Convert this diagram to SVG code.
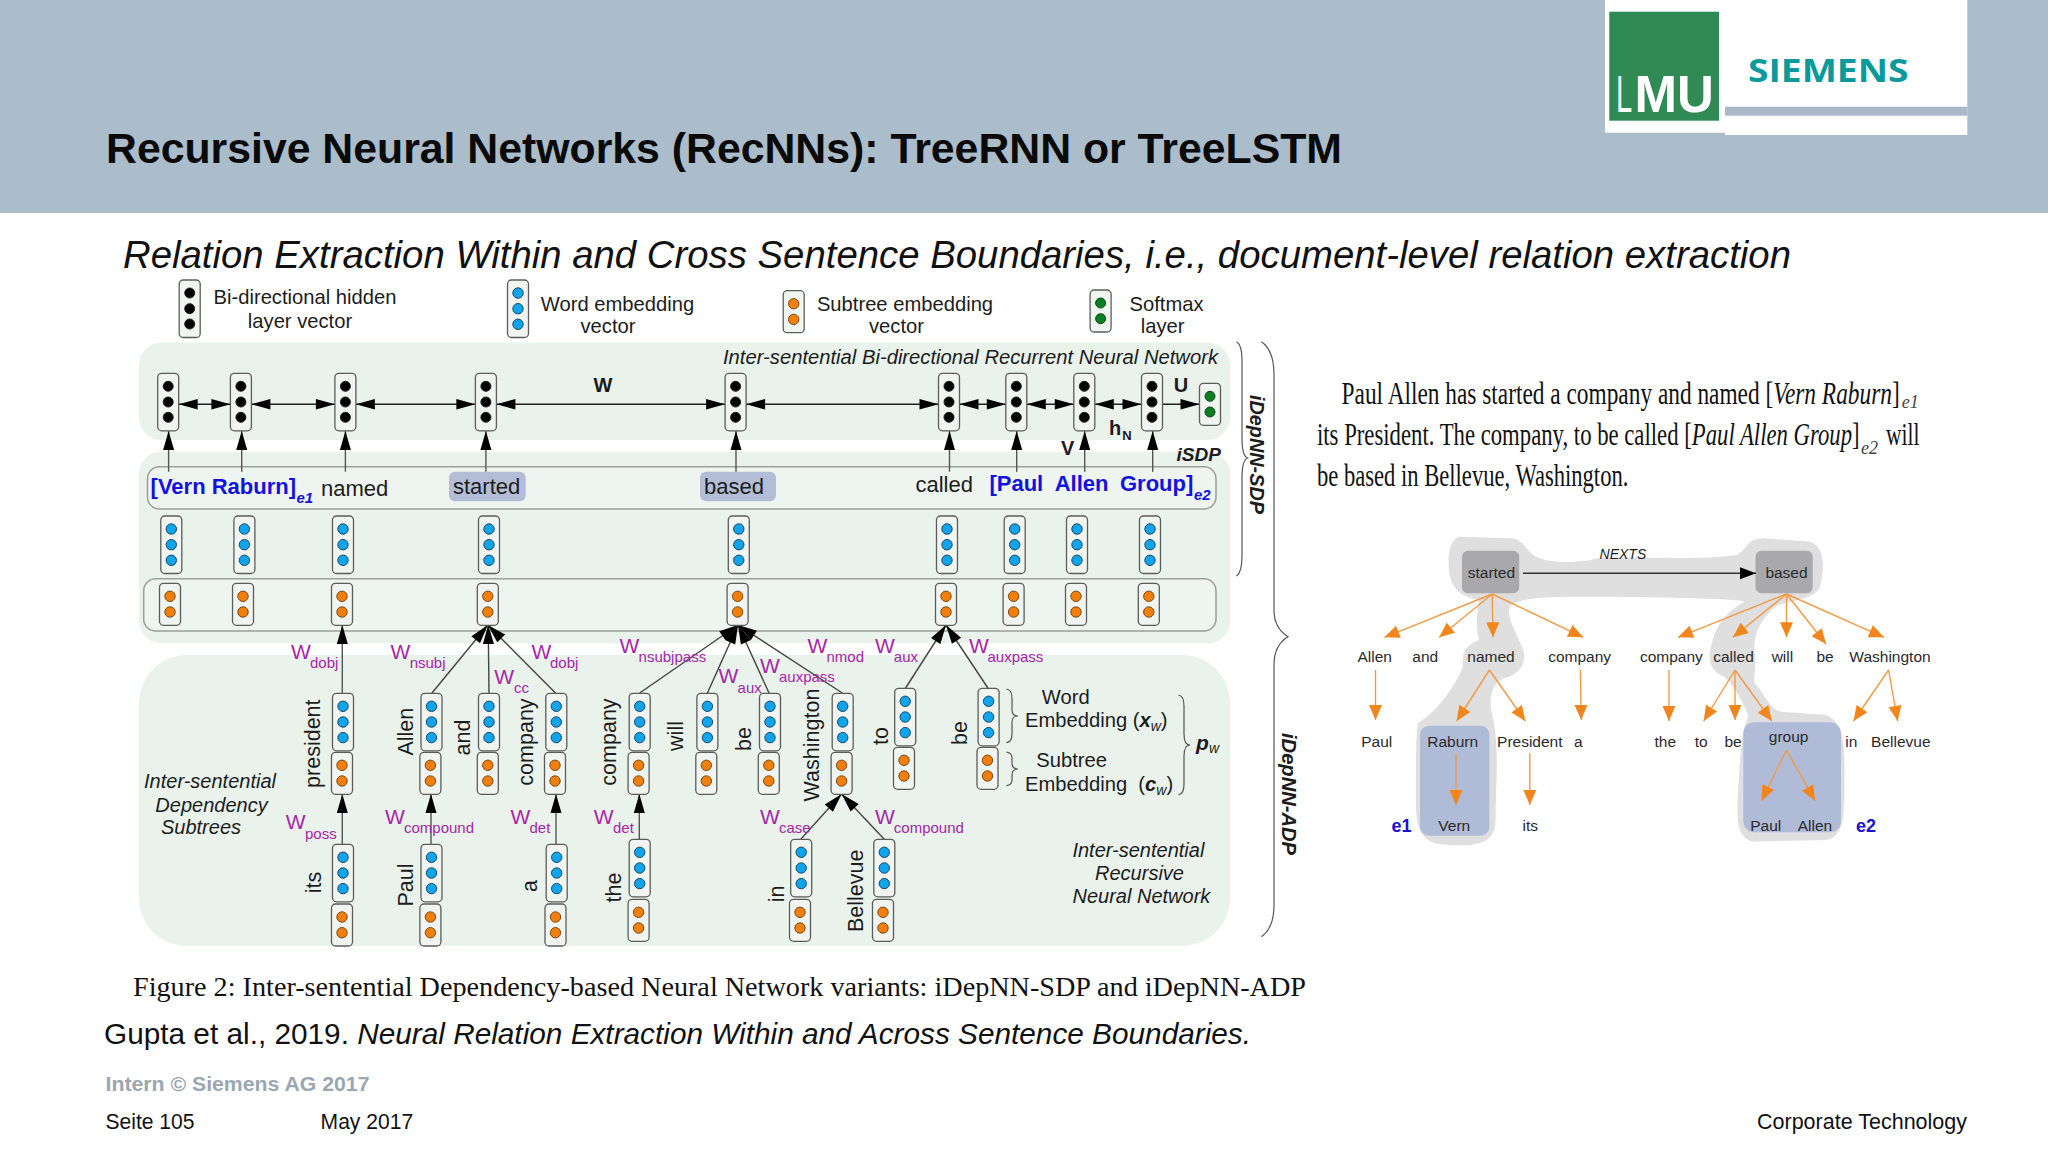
<svg xmlns="http://www.w3.org/2000/svg" xmlns:xlink="http://www.w3.org/1999/xlink" width="2048" height="1151" viewBox="0 0 2048 1151">
<style>
text{font-family:"Liberation Sans",Arial,sans-serif;fill:#1c1c1c}
.lg{font-size:20.2px;text-anchor:middle}
.wd{font-size:22px}
.bl{font-size:22px;font-weight:bold;fill:#1212e0}
.bs{font-size:15px;font-weight:bold;font-style:italic;fill:#1212e0}
.rt{font-size:21.5px;text-anchor:middle}
.it{font-size:20px;font-style:italic;text-anchor:middle}
.W{font-size:21px;fill:#a726a7}
.S{font-size:15px;fill:#a726a7}
.sym{font-size:20px;font-weight:bold}
.tr{font-size:15.5px;text-anchor:middle;fill:#2a2a2a}
.ser{font-family:"Liberation Serif","Times New Roman",serif;font-size:32px;fill:#111}
.sb{font-family:"Liberation Serif","Times New Roman",serif;font-size:18px;font-style:italic;fill:#444}
.pn{fill:#e9f2eb}
.row{fill:#eef5f0;stroke:#9c9f9c;stroke-width:1.5}
.hl{fill:#b3bdd6}
.br{fill:none;stroke:#555;stroke-width:1.2}
.c{fill:none;stroke:#555;stroke-width:1.4}
.a{marker-end:url(#ah)}
.fat{stroke:#444;marker-end:url(#af)}
.h{fill:none;stroke:#222;stroke-width:1.4;marker-start:url(#hh);marker-end:url(#hh)}
.o{stroke:#f29a44;stroke-width:1.4;marker-end:url(#oh)}
.vb{fill:#f0f5f1;stroke:#5c5c5c;stroke-width:1.3}
.cb{fill:#000;stroke:#222}
.cu{fill:#10a4ec;stroke:#1a4a66}
.co{fill:#f27f0c;stroke:#7a4a18}
.cg{fill:#0b7d22;stroke:#0a4a16}
</style>
<defs>
<marker id="ah" markerUnits="userSpaceOnUse" markerWidth="12" markerHeight="19" refX="6" refY="0" orient="0" overflow="visible"><path d="M6,0L11.5,19H0.5Z" fill="#000"/></marker>
<marker id="af" markerUnits="userSpaceOnUse" markerWidth="19" markerHeight="11" refX="19" refY="5.5" orient="auto" overflow="visible"><path d="M19,5.5L0,0V11Z" fill="#000"/></marker>
<marker id="hh" markerUnits="userSpaceOnUse" markerWidth="19" markerHeight="11" refX="19" refY="5.5" orient="auto-start-reverse" overflow="visible"><path d="M19,5.5L0,0.2V10.8Z" fill="#000"/></marker>
<marker id="oh" markerUnits="userSpaceOnUse" markerWidth="15" markerHeight="14" refX="15" refY="6.5" orient="auto" overflow="visible"><path d="M15,6.5L0,0V13Z" fill="#f2861c"/></marker>
<marker id="kh" markerUnits="userSpaceOnUse" markerWidth="16" markerHeight="12" refX="16" refY="6" orient="auto" overflow="visible"><path d="M16,6L0,0V12Z" fill="#000"/></marker>
<g id="vk"><rect class="vb" x="-10.5" width="21" height="57.5" rx="4"/><circle class="cb" cy="13" r="5"/><circle class="cb" cy="28.7" r="5"/><circle class="cb" cy="44" r="5"/></g>
<g id="vu"><rect class="vb" x="-10.5" width="21" height="57.5" rx="4"/><circle class="cu" cy="13" r="5.2"/><circle class="cu" cy="28.7" r="5.2"/><circle class="cu" cy="44.3" r="5.2"/></g>
<g id="vo"><rect class="vb" x="-10.5" width="21" height="42" rx="4"/><circle class="co" cy="13" r="5.2"/><circle class="co" cy="28.7" r="5.2"/></g>
<g id="vg"><rect class="vb" x="-10.5" width="21" height="42" rx="4"/><circle class="cg" cy="13" r="5"/><circle class="cg" cy="28.7" r="5"/></g>
</defs>

<rect width="2048" height="1151" fill="#fff"/>
<g id="header">
<rect width="2048" height="213" fill="#abbcca"/>
<text x="106" y="163" font-size="43" font-weight="bold" textLength="1236" lengthAdjust="spacingAndGlyphs" style="fill:#0a0a0a">Recursive Neural Networks (RecNNs): TreeRNN or TreeLSTM</text>
</g>
<g id="logos">
<rect x="1605" y="0" width="120" height="132.7" fill="#fff"/>
<rect x="1725" y="0" width="242.3" height="135" fill="#fff"/>
<rect x="1725" y="106.7" width="242.3" height="9" fill="#abb8c9"/>
<rect x="1609.3" y="11.7" width="109.7" height="109" fill="#2f8a54"/>
<text transform="translate(1616 112.3) scale(.57 1)" font-size="51" style="fill:#fff">L</text>
<text x="1634.5" y="112.3" font-size="51" font-weight="bold" style="fill:#fff">MU</text>
<text x="1748" y="81.7" font-size="32" font-weight="bold" textLength="160.5" lengthAdjust="spacingAndGlyphs" style="font-family:'Open Sans',sans-serif;fill:#0b9a9c">SIEMENS</text>
</g>
<text id="subtitle" x="123" y="268" font-size="39" font-style="italic" textLength="1668" lengthAdjust="spacingAndGlyphs" style="fill:#111">Relation Extraction Within and Cross Sentence Boundaries, i.e., document-level relation extraction</text>

<g id="legend">
<g id="leg-hidden"><use href="#vk" x="189.7" y="280"/><text class="lg" x="305" y="304.3">Bi-directional hidden</text><text class="lg" x="300" y="328.3">layer vector</text></g>
<g id="leg-word"><use href="#vu" x="518" y="280"/><text class="lg" x="617.5" y="310.7">Word embedding</text><text class="lg" x="608" y="332.7">vector</text></g>
<g id="leg-subtree"><use href="#vo" x="793.7" y="290.7"/><text class="lg" x="905" y="310.7">Subtree embedding</text><text class="lg" x="896.5" y="332.7">vector</text></g>
<g id="leg-softmax"><use href="#vg" x="1100.6" y="290"/><text class="lg" x="1166.6" y="310.7">Softmax</text><text class="lg" x="1162.6" y="332.7">layer</text></g>
</g>

<g id="panels">
<rect class="pn" x="139" y="342.7" width="1091" height="97.3" rx="22"/>
<rect class="pn" x="139" y="451.7" width="1091" height="191.6" rx="22"/>
<rect class="pn" x="139" y="655" width="1091" height="291" rx="48"/>
<rect class="row" x="147.5" y="466.7" width="1068.5" height="42.3" rx="12"/>
<rect class="row" x="143.7" y="578.7" width="1072.3" height="52.3" rx="12"/>
<rect class="hl" x="449" y="471.7" width="76.7" height="29.5" rx="6"/>
<rect class="hl" x="700" y="471.7" width="76" height="29.5" rx="6"/>
</g>

<g id="connectors">
<line class="h" x1="178.7" y1="404.3" x2="230.4" y2="404.3"/>
<line class="h" x1="251.4" y1="404.3" x2="334.9" y2="404.3"/>
<line class="h" x1="355.9" y1="404.3" x2="475.4" y2="404.3"/>
<line class="h" x1="496.4" y1="404.3" x2="725.1" y2="404.3"/>
<line class="h" x1="746.1" y1="404.3" x2="938.5" y2="404.3"/>
<line class="h" x1="959.5" y1="404.3" x2="1005.8" y2="404.3"/>
<line class="h" x1="1026.8" y1="404.3" x2="1073.8" y2="404.3"/>
<line class="h" x1="1094.8" y1="404.3" x2="1141.5" y2="404.3"/>
<line x1="1162.5" y1="404.3" x2="1199.5" y2="404.3" stroke="#222" stroke-width="1.4" marker-end="url(#hh)"/>
<line class="c a" x1="168.6" y1="471.7" x2="168.6" y2="431"/>
<line class="c a" x1="241.7" y1="471.7" x2="241.7" y2="431"/>
<line class="c a" x1="345.4" y1="471.7" x2="345.4" y2="431"/>
<line class="c a" x1="485.9" y1="471.7" x2="485.9" y2="431"/>
<line class="c a" x1="736" y1="471.7" x2="736" y2="431"/>
<line class="c a" x1="949.5" y1="471.7" x2="949.5" y2="431"/>
<line class="c a" x1="1016.7" y1="471.7" x2="1016.7" y2="431"/>
<line class="c a" x1="1084.7" y1="471.7" x2="1084.7" y2="431"/>
<line class="c a" x1="1152.7" y1="471.7" x2="1152.7" y2="431"/>
<line class="c a" x1="342.3" y1="693" x2="342.3" y2="625"/>
<line class="c a" x1="342.3" y1="844" x2="342.3" y2="794"/>
<line class="c a" x1="431" y1="844" x2="431" y2="794"/>
<line class="c a" x1="556" y1="844" x2="556" y2="794"/>
<line class="c a" x1="639.3" y1="839" x2="639.3" y2="794"/>
<line class="c fat" x1="432" y1="693" x2="487.8" y2="625"/>
<line class="c fat" x1="489" y1="693" x2="488.2" y2="625"/>
<line class="c fat" x1="555.5" y1="693" x2="487.8" y2="625"/>
<line class="c fat" x1="639.7" y1="693" x2="738" y2="625"/>
<line class="c fat" x1="707.4" y1="693" x2="738" y2="625"/>
<line class="c fat" x1="769" y1="693" x2="738" y2="625"/>
<line class="c fat" x1="842.3" y1="693" x2="738" y2="625"/>
<line class="c fat" x1="905.6" y1="688" x2="946" y2="625"/>
<line class="c fat" x1="987.9" y1="688" x2="946" y2="625"/>
<line class="c fat" x1="800.8" y1="839.3" x2="841.6" y2="794"/>
<line class="c fat" x1="884.3" y1="839.3" x2="841.6" y2="794"/>
</g>

<g id="top-row">
<g id="h1"><use href="#vk" x="168.2" y="373.3"/></g>
<g id="h2"><use href="#vk" x="240.9" y="373.3"/></g>
<g id="h3"><use href="#vk" x="345.4" y="373.3"/></g>
<g id="h4"><use href="#vk" x="485.9" y="373.3"/></g>
<g id="h5"><use href="#vk" x="735.6" y="373.3"/></g>
<g id="h6"><use href="#vk" x="949" y="373.3"/></g>
<g id="h7"><use href="#vk" x="1016.3" y="373.3"/></g>
<g id="h8"><use href="#vk" x="1084.3" y="373.3"/></g>
<g id="h9"><use href="#vk" x="1152" y="373.3"/></g>
<g id="softmax"><use href="#vg" x="1210" y="383.3"/></g>
</g>
<g id="sdp-vectors">
<g id="s1"><use href="#vu" x="171.3" y="516"/><use href="#vo" x="170" y="583.3"/></g>
<g id="s2"><use href="#vu" x="244.4" y="516"/><use href="#vo" x="243" y="583.3"/></g>
<g id="s3"><use href="#vu" x="343" y="516"/><use href="#vo" x="342" y="583.3"/></g>
<g id="s4"><use href="#vu" x="489" y="516"/><use href="#vo" x="487.8" y="583.3"/></g>
<g id="s5"><use href="#vu" x="738.8" y="516"/><use href="#vo" x="737.6" y="583.3"/></g>
<g id="s6"><use href="#vu" x="947" y="516"/><use href="#vo" x="946" y="583.3"/></g>
<g id="s7"><use href="#vu" x="1014.7" y="516"/><use href="#vo" x="1013.6" y="583.3"/></g>
<g id="s8"><use href="#vu" x="1077" y="516"/><use href="#vo" x="1076" y="583.3"/></g>
<g id="s9"><use href="#vu" x="1150" y="516"/><use href="#vo" x="1148.8" y="583.3"/></g>
</g>
<g id="subtree-vectors">
<g id="t-president"><use href="#vu" x="343" y="693.3"/><use href="#vo" x="342" y="752.3"/><text class="rt" transform="translate(319.8 743.7) rotate(-90)">president</text></g>
<g id="t-allen"><use href="#vu" x="431.5" y="693.3"/><use href="#vo" x="430.4" y="752.3"/><text class="rt" transform="translate(412.8 731.7) rotate(-90)">Allen</text></g>
<g id="t-and"><use href="#vu" x="489" y="693.3"/><use href="#vo" x="487.8" y="752.3"/><text class="rt" transform="translate(470 737.5) rotate(-90)">and</text></g>
<g id="t-company"><use href="#vu" x="556.3" y="693.3"/><use href="#vo" x="555" y="752.3"/><text class="rt" transform="translate(532.5 742) rotate(-90)">company</text></g>
<g id="t-company2"><use href="#vu" x="639.7" y="693.3"/><use href="#vo" x="638.6" y="752.3"/><text class="rt" transform="translate(616 742) rotate(-90)">company</text></g>
<g id="t-will"><use href="#vu" x="707.4" y="693.3"/><use href="#vo" x="706.3" y="752.3"/><text class="rt" transform="translate(683.3 736) rotate(-90)">will</text></g>
<g id="t-be"><use href="#vu" x="770" y="693.3"/><use href="#vo" x="768.8" y="752.3"/><text class="rt" transform="translate(751.4 739) rotate(-90)">be</text></g>
<g id="t-washington"><use href="#vu" x="842.7" y="693.3"/><use href="#vo" x="841.6" y="752.3"/><text class="rt" transform="translate(818.6 745) rotate(-90)">Washington</text></g>
<g id="t-to"><use href="#vu" x="905.2" y="688.3"/><use href="#vo" x="904" y="747.3"/><text class="rt" transform="translate(887.8 736) rotate(-90)">to</text></g>
<g id="t-be2"><use href="#vu" x="988.6" y="688.3"/><use href="#vo" x="987.5" y="747.3"/><text class="rt" transform="translate(967 733) rotate(-90)">be</text></g>
<g id="t-its"><use href="#vu" x="343" y="844.3"/><use href="#vo" x="342" y="904"/><text class="rt" transform="translate(321 882.5) rotate(-90)">its</text></g>
<g id="t-paul"><use href="#vu" x="431.5" y="844.3"/><use href="#vo" x="430.4" y="904"/><text class="rt" transform="translate(412.8 885) rotate(-90)">Paul</text></g>
<g id="t-a"><use href="#vu" x="556.7" y="844.3"/><use href="#vo" x="555.5" y="904"/><text class="rt" transform="translate(537 886) rotate(-90)">a</text></g>
<g id="t-the"><use href="#vu" x="639.7" y="839.3"/><use href="#vo" x="638.6" y="899.3"/><text class="rt" transform="translate(621.3 887.5) rotate(-90)">the</text></g>
<g id="t-in"><use href="#vu" x="801.2" y="839.3"/><use href="#vo" x="800" y="899.3"/><text class="rt" transform="translate(783.8 894) rotate(-90)">in</text></g>
<g id="t-bellevue"><use href="#vu" x="884.3" y="839.3"/><use href="#vo" x="883" y="899.3"/><text class="rt" transform="translate(863 890.8) rotate(-90)">Bellevue</text></g>
</g>

<g id="sdp-words">
<text class="bl" x="150.6" y="494" textLength="145.4" lengthAdjust="spacingAndGlyphs">[Vern Raburn]</text>
<text class="bs" x="296.5" y="503.3">e1</text>
<text class="wd" x="321" y="495.7">named</text>
<text class="wd" x="453" y="494">started</text>
<text class="wd" x="704" y="494">based</text>
<text class="wd" x="915.5" y="492.3">called</text>
<text class="bl" x="989.4" y="491">[Paul</text>
<text class="bl" x="1054.7" y="491">Allen</text>
<text class="bl" x="1120" y="491">Group]</text>
<text class="bs" x="1194" y="500">e2</text>
<text class="it" x="970.5" y="364.3" textLength="495" lengthAdjust="spacingAndGlyphs">Inter-sentential Bi-directional Recurrent Neural Network</text>
<text class="sym" x="603" y="392.3" text-anchor="middle">W</text>
<text class="sym" x="1181" y="392.3" text-anchor="middle">U</text>
<text class="sym" x="1067.7" y="455" text-anchor="middle">V</text>
<text x="1115" y="435" font-size="20" font-weight="bold" text-anchor="middle">h</text><text x="1127" y="440" font-size="13" font-weight="bold" text-anchor="middle">N</text>
<text x="1176.5" y="460.7" font-size="19" font-weight="bold" font-style="italic">iSDP</text>
</g>

<g id="relation-labels">
<text class="W" x="291" y="659">W</text><text class="S" x="310" y="668">dobj</text>
<text class="W" x="390.6" y="659">W</text><text class="S" x="409.7" y="668">nsubj</text>
<text class="W" x="531.4" y="659">W</text><text class="S" x="550" y="668">dobj</text>
<text class="W" x="494.3" y="684">W</text><text class="S" x="514" y="692.7">cc</text>
<text class="W" x="619.4" y="653.3">W</text><text class="S" x="638.6" y="662.3">nsubjpass</text>
<text class="W" x="285.7" y="829.3">W</text><text class="S" x="305" y="838.7">poss</text>
<text class="W" x="385" y="824.3">W</text><text class="S" x="404" y="833.3">compound</text>
<text class="W" x="510.4" y="824">W</text><text class="S" x="529.5" y="833.3">det</text>
<text class="W" x="593.8" y="824">W</text><text class="S" x="613" y="833.3">det</text>
<text class="W" x="718.6" y="683.3">W</text><text class="S" x="737.6" y="693.3">aux</text>
<text class="W" x="760" y="673.3">W</text><text class="S" x="779" y="682.3">auxpass</text>
<text class="W" x="807.5" y="653.3">W</text><text class="S" x="826.5" y="661.7">nmod</text>
<text class="W" x="875" y="653.3">W</text><text class="S" x="893.8" y="661.7">aux</text>
<text class="W" x="969" y="653.3">W</text><text class="S" x="987.5" y="661.7">auxpass</text>
<text class="W" x="760" y="824">W</text><text class="S" x="779" y="833">case</text>
<text class="W" x="875" y="824">W</text><text class="S" x="893.8" y="833">compound</text>
</g>

<g id="notes">
<text class="it" x="210" y="788.3">Inter-sentential</text>
<text class="it" x="211.5" y="811.7">Dependency</text>
<text class="it" x="201" y="834">Subtrees</text>
<text class="it" x="1138.4" y="856.7">Inter-sentential</text>
<text class="it" x="1139.5" y="880">Recursive</text>
<text class="it" x="1141.4" y="902.7">Neural Network</text>
<text class="lg" x="1065.7" y="704.3">Word</text>
<text x="1025" y="727.3" font-size="20.2">Embedding (<tspan font-weight="bold" font-style="italic">x</tspan><tspan font-size="14" font-style="italic" dy="4">w</tspan><tspan dy="-4">)</tspan></text>
<text class="lg" x="1071.7" y="767.3">Subtree</text>
<text x="1025" y="790.7" font-size="20.2" xml:space="preserve">Embedding  (<tspan font-weight="bold" font-style="italic">c</tspan><tspan font-size="14" font-style="italic" dy="4">w</tspan><tspan dy="-4">)</tspan></text>
<text x="1196" y="750" font-size="21" font-weight="bold" font-style="italic">p</text><text x="1209" y="753" font-size="14" font-style="italic">w</text>
<path class="br" d="M1006.4,689Q1012,690 1012,698V710Q1012,716 1018,716Q1012,716 1012,722V734Q1012,742 1006.4,742.7"/>
<path class="br" d="M1006.4,752Q1012,753 1012,758V763Q1012,769 1018,769Q1012,769 1012,775V780Q1012,785 1006.4,785.7"/>
<path class="br" d="M1178.5,695Q1184,696 1184,706V734Q1184,745 1190,745Q1184,745 1184,756V784Q1184,794 1178.5,795"/>
<path class="br" d="M1236.6,341.7Q1242,345 1242,360V438Q1242,456 1247.6,458Q1242,460 1242,478V556Q1242,572 1236.6,576"/>
<path class="br" d="M1261.5,341.7Q1274,350 1274,375V610Q1274,628 1288,636.7Q1274,645 1274,665V905Q1274,928 1261.5,936.7"/>
<text transform="translate(1250 454.5) rotate(90)" font-size="20" font-weight="bold" font-style="italic" text-anchor="middle" textLength="119" lengthAdjust="spacingAndGlyphs">iDepNN-SDP</text>
<text transform="translate(1282 794) rotate(90)" font-size="20" font-weight="bold" font-style="italic" text-anchor="middle" textLength="122" lengthAdjust="spacingAndGlyphs">iDepNN-ADP</text>
</g>

<g id="paragraph">
<text class="ser" transform="translate(1341.6 404.3) scale(.7296 1)">Paul Allen has started a company and named [<tspan font-style="italic">Vern Raburn</tspan>]</text>
<text class="sb" x="1901.7" y="407.7">e1</text>
<text class="ser" transform="translate(1317 444.6) scale(.71 1)">its President. The company, to be called [<tspan font-style="italic">Paul Allen Group</tspan>]</text>
<text class="sb" x="1861" y="454">e2</text>
<text class="ser" x="1886" y="444.6" textLength="33.5" lengthAdjust="spacingAndGlyphs">will</text>
<text class="ser" transform="translate(1317 485.7) scale(.706 1)">be based in Bellevue, Washington.</text>
</g>

<g id="tree">
<path transform="translate(1320 520) scale(.40816 .33333)" fill="#dfdfe0" d="M340,50L470,55C500,60 510,100 530,110C560,130 640,130 680,115C800,110 950,120 1020,105C1050,90 1040,55 1090,55L1200,65C1240,80 1235,150 1225,200C1215,240 1130,245 1115,260C1080,300 1060,340 1065,400C1070,450 1060,480 1065,490C1090,520 1100,570 1130,575L1240,585C1290,610 1285,700 1285,800C1285,900 1280,950 1240,960L1060,965C1020,950 1020,900 1025,800C1030,690 1035,620 1050,590C1040,550 1010,490 990,470C950,450 950,410 960,370C970,320 990,280 1040,245C1030,235 760,230 620,230C550,230 480,235 465,260C455,300 490,350 500,400C505,450 470,470 450,475C420,490 410,540 425,600C440,700 430,800 430,900C430,960 400,980 320,975C260,975 235,950 235,850C235,720 235,640 240,610C290,570 330,500 350,440C350,400 350,380 390,360C380,320 385,270 390,240C340,230 315,200 315,130C315,90 320,60 340,50Z"/>
<rect x="1420" y="725.7" width="69.4" height="110" rx="9" fill="#b0bbd8"/>
<rect x="1743.3" y="722.3" width="97.7" height="110" rx="11" fill="#b0bbd8"/>
<g id="n-started"><rect x="1462" y="550.7" width="57.2" height="42.6" rx="6" fill="#a9a9ab"/><text class="tr" x="1491.4" y="578.3">started</text></g>
<g id="n-based"><rect x="1755.5" y="550.7" width="57.2" height="42.6" rx="6" fill="#a9a9ab"/><text class="tr" x="1786.5" y="578.3">based</text></g>
<text x="1622.9" y="559.3" font-size="14" font-style="italic" text-anchor="middle">NEXTS</text>
<g id="tree-connectors">
<line x1="1522.9" y1="573.3" x2="1756" y2="573.3" stroke="#333" stroke-width="1.4" marker-end="url(#kh)"/>
<line class="o" x1="1492.2" y1="594" x2="1384.5" y2="637.3"/>
<line class="o" x1="1492.2" y1="594" x2="1439.2" y2="637.3"/>
<line class="o" x1="1492.2" y1="594" x2="1493" y2="637.3"/>
<line class="o" x1="1492.2" y1="594" x2="1583.3" y2="637.3"/>
<line class="o" x1="1786.5" y1="594" x2="1678" y2="637.3"/>
<line class="o" x1="1786.5" y1="594" x2="1733" y2="637.3"/>
<line class="o" x1="1786.5" y1="594" x2="1786.5" y2="637.3"/>
<line class="o" x1="1786.5" y1="594" x2="1826" y2="644"/>
<line class="o" x1="1786.5" y1="594" x2="1884" y2="637.3"/>
<line class="o" x1="1375.5" y1="670" x2="1375.5" y2="720"/>
<line class="o" x1="1580.4" y1="670" x2="1581.2" y2="720"/>
<line class="o" x1="1489.4" y1="670" x2="1456.7" y2="721"/>
<line class="o" x1="1489.4" y1="670" x2="1525.3" y2="721"/>
<line class="o" x1="1669" y1="670" x2="1669" y2="721"/>
<line class="o" x1="1735" y1="670" x2="1703.7" y2="721"/>
<line class="o" x1="1735" y1="670" x2="1735" y2="720"/>
<line class="o" x1="1735" y1="670" x2="1771.8" y2="721"/>
<line class="o" x1="1888.6" y1="670" x2="1853.5" y2="721"/>
<line class="o" x1="1888.6" y1="670" x2="1897.6" y2="721"/>
<line class="o" x1="1456" y1="753.3" x2="1456" y2="805"/>
<line class="o" x1="1529.8" y1="753.3" x2="1529.8" y2="805"/>
<line class="o" x1="1786.5" y1="750" x2="1761.6" y2="800.7"/>
<line class="o" x1="1786.5" y1="750" x2="1815" y2="800.7"/>
</g>
<g id="tree-words">
<text class="tr" x="1374.7" y="662.3">Allen</text><text class="tr" x="1425.3" y="662.3">and</text><text class="tr" x="1491" y="662.3">named</text><text class="tr" x="1579.6" y="662.3">company</text><text class="tr" x="1671.4" y="662.3">company</text><text class="tr" x="1733.5" y="662.3">called</text><text class="tr" x="1782.4" y="662.3">will</text><text class="tr" x="1825" y="662.3">be</text><text class="tr" x="1890" y="662.3">Washington</text>
<text class="tr" x="1376.7" y="746.7">Paul</text><text class="tr" x="1452.7" y="746.7">Raburn</text><text class="tr" x="1529.8" y="746.7">President</text><text class="tr" x="1578.4" y="746.7">a</text><text class="tr" x="1665.3" y="746.7">the</text><text class="tr" x="1701.2" y="746.7">to</text><text class="tr" x="1733" y="746.7">be</text><text class="tr" x="1788.6" y="741.7">group</text><text class="tr" x="1851.4" y="746.7">in</text><text class="tr" x="1900.8" y="746.7">Bellevue</text>
<text class="tr" x="1454.3" y="830.7">Vern</text><text class="tr" x="1530.2" y="830.7">its</text><text class="tr" x="1765.7" y="830.7">Paul</text><text class="tr" x="1815" y="830.7">Allen</text>
<text x="1401.6" y="832.3" font-size="18" font-weight="bold" text-anchor="middle" style="fill:#1414d0">e1</text>
<text x="1866" y="832.3" font-size="18" font-weight="bold" text-anchor="middle" style="fill:#1414d0">e2</text>
</g>
</g>

<g id="footer">
<text x="133" y="996" font-size="27" textLength="1173" lengthAdjust="spacingAndGlyphs" style="font-family:'Liberation Serif',serif;fill:#111">Figure 2: Inter-sentential Dependency-based Neural Network variants: iDepNN-SDP and iDepNN-ADP</text>
<text x="104" y="1044" font-size="29" textLength="1147" lengthAdjust="spacingAndGlyphs" style="fill:#111">Gupta et al., 2019. <tspan font-style="italic">Neural Relation Extraction Within and Across Sentence Boundaries.</tspan></text>
<text x="105.5" y="1091" font-size="21" font-weight="bold" textLength="264" lengthAdjust="spacingAndGlyphs" style="fill:#9aa7b2">Intern © Siemens AG 2017</text>
<text x="105.5" y="1128.5" font-size="21.5" textLength="89" lengthAdjust="spacingAndGlyphs" style="fill:#111">Seite 105</text>
<text x="320.6" y="1128.5" font-size="21.5" textLength="92.5" lengthAdjust="spacingAndGlyphs" style="fill:#111">May 2017</text>
<text x="1757" y="1128.5" font-size="21.5" textLength="210" lengthAdjust="spacingAndGlyphs" style="fill:#111">Corporate Technology</text>
</g>
</svg>
